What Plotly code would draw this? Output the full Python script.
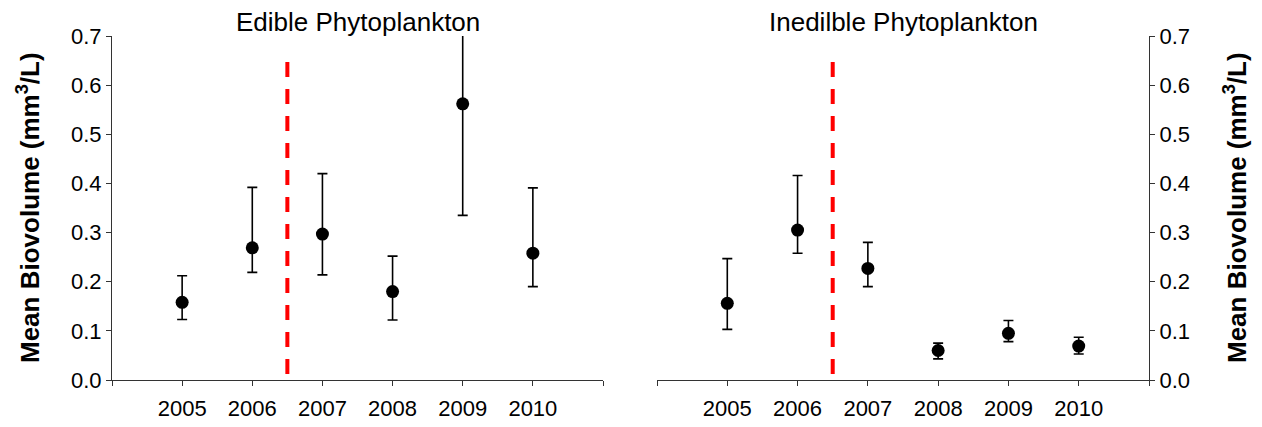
import plotly.graph_objects as go

years = [2005, 2006, 2007, 2008, 2009, 2010]
edible_mean = [0.158, 0.269, 0.297, 0.180, 0.562, 0.258]
edible_upper = [0.212, 0.392, 0.420, 0.252, 0.790, 0.391]
edible_lower = [0.123, 0.219, 0.214, 0.122, 0.335, 0.190]
inedible_mean = [0.156, 0.305, 0.227, 0.060, 0.095, 0.069]
inedible_upper = [0.247, 0.416, 0.280, 0.075, 0.121, 0.087]
inedible_lower = [0.103, 0.258, 0.190, 0.043, 0.078, 0.053]
break_year = 2006.5
break_span = [0.012, 0.665]
x_range = [2004, 2011]
x_ticks = [2005, 2006, 2007, 2008, 2009, 2010]
x_ticktext = ["2005", "2006", "2007", "2008", "2009", "2010"]
y_ticks = [0.0, 0.1, 0.2, 0.3, 0.4, 0.5, 0.6, 0.7]
titles = ["Edible Phytoplankton", "Inedilble Phytoplankton"]
ytitle = "Mean Biovolume (mm<sup>3</sup>/L)"

FONT = "Liberation Sans, Arial, sans-serif"
W, H = 1262, 427

fig = go.Figure()

def add_panel(xa, ya, mean, up, lo):
    plus = [u - m for u, m in zip(up, mean)]
    minus = [m - l for m, l in zip(mean, lo)]
    fig.add_trace(go.Scatter(
        x=[break_year, break_year], y=break_span, mode="lines",
        line=dict(color="#ff0000", width=4, dash="15px,12px"),
        xaxis=xa, yaxis=ya, showlegend=False, hoverinfo="skip"))
    fig.add_trace(go.Scatter(
        x=years, y=mean, mode="markers",
        marker=dict(color="black", size=13),
        error_y=dict(type="data", symmetric=False, array=plus, arrayminus=minus,
                     color="black", thickness=1.6, width=5),
        xaxis=xa, yaxis=ya, showlegend=False))

add_panel("x", "y", edible_mean, edible_upper, edible_lower)
add_panel("x2", "y2", inedible_mean, inedible_upper, inedible_lower)

px = lambda p: p / W
py = lambda p: 1 - p / H

axis_common = dict(showline=True, linecolor="#333333", linewidth=1, ticks="outside",
                   ticklen=5, tickcolor="#333333", tickwidth=1, showgrid=False,
                   zeroline=False, automargin=False,
                   tickfont=dict(family=FONT, size=22, color="black"))
x_minor = dict(ticks="outside", ticklen=5, tickcolor="#333333", tickwidth=1,
               tick0=x_range[0], dtick=1, showgrid=False)

fig.update_layout(
    width=W, height=H, margin=dict(l=0, r=0, t=0, b=0),
    plot_bgcolor="white", paper_bgcolor="white",
    xaxis=dict(domain=[px(112), px(603)], range=x_range, tickvals=x_ticks,
               ticktext=x_ticktext, anchor="y", minor=x_minor,
               ticklabelstandoff=4, **axis_common),
    yaxis=dict(domain=[py(380), py(36)], range=[0, 0.7], tickvals=y_ticks,
               tickformat=".1f", anchor="x", side="left", **axis_common),
    xaxis2=dict(domain=[px(657), px(1149)], range=x_range, tickvals=x_ticks,
                ticktext=x_ticktext, anchor="y2", minor=x_minor,
                ticklabelstandoff=4, **axis_common),
    yaxis2=dict(domain=[py(380), py(36)], range=[0, 0.7], tickvals=y_ticks,
                tickformat=".1f", anchor="x2", side="right", **axis_common),
)

annotations = [
    dict(text=titles[0], x=px(357.5), y=py(22), xref="paper", yref="paper",
         showarrow=False, xanchor="center", yanchor="middle",
         font=dict(family=FONT, size=26, color="black")),
    dict(text=titles[1], x=px(903), y=py(22), xref="paper", yref="paper",
         showarrow=False, xanchor="center", yanchor="middle",
         font=dict(family=FONT, size=26, color="black")),
    dict(text="<b>" + ytitle + "</b>", x=px(28), y=py(208), xref="paper", yref="paper",
         showarrow=False, xanchor="center", yanchor="middle", textangle=-90,
         font=dict(family=FONT, size=26, color="black")),
    dict(text="<b>" + ytitle + "</b>", x=px(1235), y=py(208), xref="paper", yref="paper",
         showarrow=False, xanchor="center", yanchor="middle", textangle=-90,
         font=dict(family=FONT, size=26, color="black")),
]
fig.update_layout(annotations=annotations)

fig.write_html("out.html")
